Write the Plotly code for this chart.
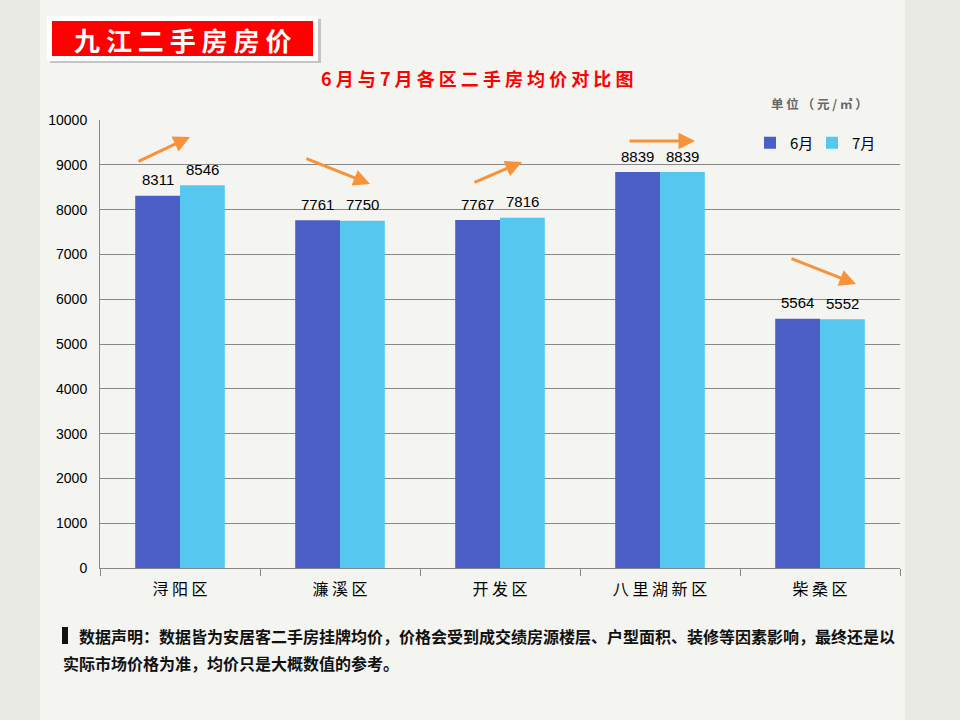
import plotly.graph_objects as go

districts = ["浔阳区", "濂溪区", "开发区", "八里湖新区", "柴桑区"]
june = [8311, 7761, 7767, 8839, 5564]
july = [8546, 7750, 7816, 8839, 5552]
series_names = ["6月", "7月"]
yticks = [0, 1000, 2000, 3000, 4000, 5000, 6000, 7000, 8000, 9000, 10000]

CJK = "Noto Sans CJK SC"
NUM = "Liberation Sans, Arial"

def spaced(s):
    return " ".join(list(s))

fig = go.Figure()
fig.add_trace(go.Bar(x=districts, y=june, name=series_names[0], marker_color="#4A5EC6",
                     marker_line_width=0))
fig.add_trace(go.Bar(x=districts, y=july, name=series_names[1], marker_color="#56C8F0",
                     marker_line_width=0))

W, H = 960, 720
L, R, T, B = 100, 900, 120, 568
def px(x): return (x - L) / (R - L)
def py(y): return (B - y) / (B - T)

shapes = [
    dict(type="rect", xref="paper", yref="paper", x0=px(40), x1=px(905), y0=py(720), y1=py(0),
         line=dict(width=0), fillcolor="#f4f4f0", layer="below"),
    dict(type="rect", xref="paper", yref="paper", x0=px(50), x1=px(321), y0=py(63), y1=py(19),
         line=dict(width=0), fillcolor="#c4c4c4", layer="below"),
    dict(type="rect", xref="paper", yref="paper", x0=px(47), x1=px(318), y0=py(61), y1=py(16),
         line=dict(width=0), fillcolor="#ffffff", layer="below"),
    dict(type="rect", xref="paper", yref="paper", x0=px(52), x1=px(313), y0=py(56), y1=py(21),
         line=dict(width=0), fillcolor="#FF0000", layer="below"),
    dict(type="rect", xref="paper", yref="paper", x0=px(62), x1=px(68), y0=py(644), y1=py(627),
         line=dict(width=0), fillcolor="#111111"),
]

def ann(text, x, y, size, color, xanchor="center", bold=True):
    return dict(text=text, xref="paper", yref="paper", x=px(x), y=py(y), xanchor=xanchor,
                yanchor="middle", showarrow=False,
                font=dict(family=CJK, size=size, color=color, weight="bold" if bold else "normal"))

annotations = [
    ann("九 江 二 手 房 房 价", 182, 39, 26, "#ffffff"),
    ann(spaced("6月与7月各区二手房均价对比图"), 477, 78, 18, "#FF0000"),
    ann("单 位 （ 元 / ㎡ ）", 819, 104, 12.5, "#666666"),
    ann("数据声明：数据皆为安居客二手房挂牌均价，价格会受到成交绩房源楼层、户型面积、装修等因素影响，最终还是以",
        77, 636, 16, "#111111", xanchor="left"),
    ann("实际市场价格为准，均价只是大概数值的参考。", 61, 663, 16, "#111111", xanchor="left"),
]

# value labels above bars
BAR_HALF = 22.5
for vals, shift in ((june, -BAR_HALF), (july, BAR_HALF)):
    for d, v in zip(districts, vals):
        annotations.append(dict(x=d, y=v, xref="x", yref="y", text=str(v), showarrow=False,
                                xshift=shift, yshift=16, yanchor="middle",
                                font=dict(family=NUM, size=15, color="#000")))

arrows = [((137, 162), (190, 137)), ((305, 158), (370, 184)), ((473, 183), (522, 162)),
          ((628, 141), (695, 141)), ((790, 258), (856, 284))]
for (x0, y0), (x1, y1) in arrows:
    annotations.append(dict(xref="paper", yref="paper", x=px(x1), y=py(y1), ax=x0 - x1, ay=y0 - y1,
                            text="", showarrow=True, arrowhead=2,
                            arrowsize=1.1, arrowwidth=3, arrowcolor="#F7923A"))

fig.update_layout(
    width=W, height=H, autosize=False,
    margin=dict(l=L, r=W - R, t=T, b=H - B, autoexpand=False),
    paper_bgcolor="#eaeae5", plot_bgcolor="rgba(0,0,0,0)",
    barmode="group", bargap=0.44, bargroupgap=0,
    shapes=shapes, annotations=annotations,
    legend=dict(orientation="h", x=px(750), y=py(143), xanchor="left", yanchor="middle",
                bgcolor="rgba(0,0,0,0)", font=dict(family=CJK, size=15, color="#000"),
                traceorder="normal", entrywidth=17),
    xaxis=dict(tickvals=districts, ticktext=[spaced(d) for d in districts],
               tickfont=dict(family=CJK, size=16, color="#000"),
               showline=True, linecolor="#888888", linewidth=1, ticks="outside",
               tickson="boundaries", ticklen=7, tickcolor="#888888", showgrid=False,
               ticklabelstandoff=7),
    yaxis=dict(range=[0, 10000], tickvals=yticks, tickformat="d",
               tickfont=dict(family=NUM, size=14, color="#000"), ticklabelstandoff=9,
               showline=True, linecolor="#888888", linewidth=1, gridcolor="#888888", gridwidth=1,
               ticks="", zeroline=False),
    showlegend=True,
)

fig.write_html("out.html", config={"responsive": False, "displayModeBar": False},
               post_script="document.body.style.margin='0';document.body.style.overflow='hidden';")
